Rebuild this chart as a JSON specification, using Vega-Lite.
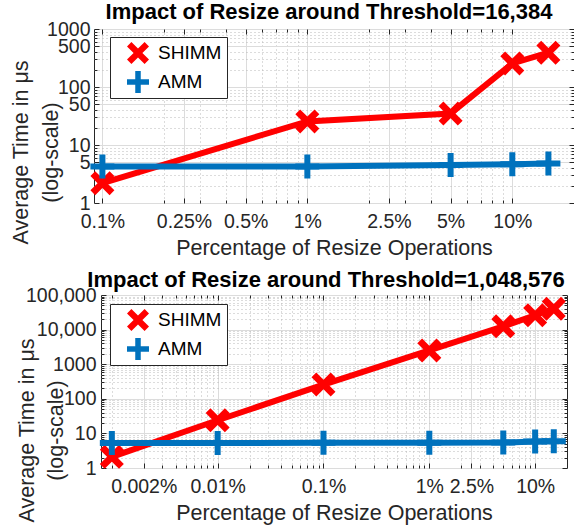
{
  "$schema": "https://vega.github.io/schema/vega-lite/v6.json",
  "background": "white",
  "padding": {"left": 9, "top": 0, "right": 0, "bottom": 0},
  "columns": 1,
  "bounds": "flush",
  "center": true,
  "spacing": 92,
  "resolve": {"scale": {"color": "independent", "shape": "independent"}, "legend": {"color": "independent", "shape": "independent"}},
  "config": {
    "font": "Liberation Sans",
    "view": {"stroke": "#262626", "strokeWidth": 1},
    "legend": {
      "orient": "none", "title": null, "strokeColor": "#262626", "fillColor": "white", "padding": 5,
      "labelFontSize": 19, "labelColor": "black", "labelFont": "Liberation Sans", "rowPadding": 7,
      "symbolSize": 484, "symbolOffset": 12, "labelOffset": 9, "symbolStrokeWidth": 0, "symbolOpacity": 1,
      "cornerRadius": 0, "strokeWidth": 1
    },
    "axis": {
      "labelFont": "Liberation Sans", "labelFontSize": 19.5, "labelColor": "#262626", "labelOverlap": false, "labelFlush": false,
      "titleFont": "Liberation Sans", "titleFontSize": 21.5, "titleFontWeight": "normal", "titleColor": "#262626",
      "domain": false, "tickColor": "#262626", "gridWidth": 1
    }
  },
  "datasets": {
    "top": [
      {"pct": 0.1, "time": 2.2, "method": "SHIMM"},
      {"pct": 1, "time": 25.5, "method": "SHIMM"},
      {"pct": 5, "time": 35, "method": "SHIMM"},
      {"pct": 10, "time": 255, "method": "SHIMM"},
      {"pct": 15, "time": 390, "method": "SHIMM"},
      {"pct": 0.1, "time": 4.25, "method": "AMM"},
      {"pct": 1, "time": 4.25, "method": "AMM"},
      {"pct": 5, "time": 4.5, "method": "AMM"},
      {"pct": 10, "time": 4.65, "method": "AMM"},
      {"pct": 15, "time": 4.8, "method": "AMM"}
    ],
    "bottom": [
      {"pct": 0.001, "time": 2.1, "method": "SHIMM"},
      {"pct": 0.01, "time": 24, "method": "SHIMM"},
      {"pct": 0.1, "time": 258, "method": "SHIMM"},
      {"pct": 1, "time": 2500, "method": "SHIMM"},
      {"pct": 5, "time": 12400, "method": "SHIMM"},
      {"pct": 10, "time": 26000, "method": "SHIMM"},
      {"pct": 15, "time": 40000, "method": "SHIMM"},
      {"pct": 0.001, "time": 5.3, "method": "AMM"},
      {"pct": 0.01, "time": 5.3, "method": "AMM"},
      {"pct": 0.1, "time": 5.35, "method": "AMM"},
      {"pct": 1, "time": 5.35, "method": "AMM"},
      {"pct": 5, "time": 5.45, "method": "AMM"},
      {"pct": 10, "time": 5.8, "method": "AMM"},
      {"pct": 15, "time": 5.9, "method": "AMM"}
    ]
  },
  "concat": [
    {
      "width": 480, "height": 174,
      "title": {"text": "Impact of Resize around Threshold=16,384", "fontSize": 22, "fontWeight": "bold", "color": "black", "offset": -5, "anchor": "middle", "dx": -5},
      "data": {"name": "top"},
      "resolve": {"axis": {"x": "independent", "y": "independent"}},
      "layer": [
        {
          "mark": {"type": "line", "strokeWidth": 6},
          "encoding": {
            "x": {"field": "pct", "type": "quantitative", "scale": {"type": "log", "domain": [0.091, 20], "nice": false},
              "axis": {"orient": "bottom", "title": "Percentage of Resize Operations",
                "values": [0.1, 0.2, 0.25, 0.3, 0.4, 0.5, 0.6, 0.7, 0.8, 0.9, 1, 2, 2.5, 3, 4, 5, 6, 7, 8, 9, 10],
                "labelExpr": "indexof([0.1,0.25,0.5,1,2.5,5,10], datum.value) >= 0 ? datum.value + '%' : ''",
                "labelPadding": 14, "titlePadding": 5,
                "tickSize": {"condition": {"test": "indexof([0.1,0.25,0.5,1,2.5,5,10], datum.value) < 0", "value": -3}, "value": -5},
                "gridColor": {"condition": {"test": "indexof([0.1,0.25,0.5,1,2.5,5,10], datum.value) < 0", "value": "#b8b8b8"}, "value": "#dcdcdc"},
                "gridDash": {"condition": {"test": "indexof([0.1,0.25,0.5,1,2.5,5,10], datum.value) < 0", "value": [1, 3]}, "value": []}
              }},
            "y": {"field": "time", "type": "quantitative", "scale": {"type": "log", "domain": [1, 1000], "nice": false},
              "axis": {"orient": "left", "title": ["Average Time in μs", "(log-scale)"], "titleX": -62, "titleY": 123, "titleLineHeight": 30,
                "values": [1, 2, 3, 4, 5, 6, 7, 8, 9, 10, 20, 30, 40, 50, 60, 70, 80, 90, 100, 200, 300, 400, 500, 600, 700, 800, 900, 1000],
                "labelExpr": "indexof([1,5,10,50,100,500,1000], datum.value) >= 0 ? format(datum.value, 'd') : ''",
                "labelPadding": 9,
                "tickSize": {"condition": {"test": "indexof([1,5,10,50,100,500,1000], datum.value) < 0", "value": -3}, "value": -5},
                "gridColor": {"condition": {"test": "indexof([1,5,10,50,100,500,1000], datum.value) < 0", "value": "#b8b8b8"}, "value": "#dcdcdc"},
                "gridDash": {"condition": {"test": "indexof([1,5,10,50,100,500,1000], datum.value) < 0", "value": [1, 3]}, "value": []}
              }},
            "color": {"field": "method", "type": "nominal", "scale": {"domain": ["SHIMM", "AMM"], "range": ["#FF0000", "#0072BD"]},
              "legend": {"legendX": 16, "legendY": 8, "encode": {"symbols": {"update": {
                "shape": {"signal": "datum.value == 'SHIMM' ? 'M-1.55,-0.27H1.55V0.27H-1.55Z M-1,-0.6L-0.6,-1L0,-0.4L0.6,-1L1,-0.6L0.4,0L1,0.6L0.6,1L0,0.4L-0.6,1L-1,0.6L-0.4,0Z' : 'M-1.55,-0.27H1.55V0.27H-1.55Z M-0.25,-1H0.25V-0.25H1V0.25H0.25V1H-0.25V0.25H-1V-0.25H-0.25Z'"},
                "fill": {"signal": "datum.value == 'SHIMM' ? '#FF0000' : '#0072BD'"},
                "stroke": {"value": "transparent"}, "strokeWidth": {"value": 0}, "opacity": {"value": 1}, "fillOpacity": {"value": 1}}}}}}
          }
        },
        {
          "mark": {"type": "point", "filled": true, "opacity": 1, "size": 576, "strokeWidth": 0},
          "encoding": {
            "x": {"field": "pct", "type": "quantitative", "scale": {"type": "log", "domain": [0.091, 20], "nice": false}, "axis": null},
            "y": {"field": "time", "type": "quantitative", "scale": {"type": "log", "domain": [1, 1000], "nice": false}, "axis": null},
            "color": {"field": "method", "type": "nominal", "scale": {"domain": ["SHIMM", "AMM"], "range": ["#FF0000", "#0072BD"]}},
            "shape": {"field": "method", "type": "nominal", "scale": {"domain": ["SHIMM", "AMM"], "range": ["M-1,-0.6L-0.6,-1L0,-0.4L0.6,-1L1,-0.6L0.4,0L1,0.6L0.6,1L0,0.4L-0.6,1L-1,0.6L-0.4,0Z", "M-0.25,-1H0.25V-0.25H1V0.25H0.25V1H-0.25V0.25H-1V-0.25H-0.25Z"]}, "legend": null}
          }
        },
        {
          "mark": {"type": "point", "opacity": 0},
          "encoding": {
            "x": {"field": "pct", "type": "quantitative", "scale": {"type": "log", "domain": [0.091, 20], "nice": false},
              "axis": {"orient": "top", "title": null, "labels": false, "grid": false,
                "values": [0.1, 0.2, 0.25, 0.3, 0.4, 0.5, 0.6, 0.7, 0.8, 0.9, 1, 2, 2.5, 3, 4, 5, 6, 7, 8, 9, 10],
                "tickSize": {"condition": {"test": "indexof([0.1,0.25,0.5,1,2.5,5,10], datum.value) < 0", "value": -3}, "value": -5}}},
            "y": {"field": "time", "type": "quantitative", "scale": {"type": "log", "domain": [1, 1000], "nice": false},
              "axis": {"orient": "right", "title": null, "labels": false, "grid": false,
                "values": [1, 2, 3, 4, 5, 6, 7, 8, 9, 10, 20, 30, 40, 50, 60, 70, 80, 90, 100, 200, 300, 400, 500, 600, 700, 800, 900, 1000],
                "tickSize": {"condition": {"test": "indexof([1,5,10,50,100,500,1000], datum.value) < 0", "value": -3}, "value": -5}}}
          }
        }
      ]
    },
    {
      "width": 466, "height": 173,
      "title": {"text": "Impact of Resize around Threshold=1,048,576", "fontSize": 22, "fontWeight": "bold", "color": "black", "offset": -7, "anchor": "middle", "dx": -8},
      "data": {"name": "bottom"},
      "resolve": {"axis": {"x": "independent", "y": "independent"}},
      "layer": [
        {
          "mark": {"type": "line", "strokeWidth": 6},
          "encoding": {
            "x": {"field": "pct", "type": "quantitative", "scale": {"type": "log", "domain": [0.00079, 20], "nice": false},
              "axis": {"orient": "bottom", "title": "Percentage of Resize Operations",
                "values": [0.001, 0.002, 0.003, 0.004, 0.005, 0.006, 0.007, 0.008, 0.009, 0.01, 0.02, 0.03, 0.04, 0.05, 0.06, 0.07, 0.08, 0.09, 0.1, 0.2, 0.3, 0.4, 0.5, 0.6, 0.7, 0.8, 0.9, 1, 2, 2.5, 3, 4, 5, 6, 7, 8, 9, 10],
                "labelExpr": "indexof([0.002,0.01,0.1,1,2.5,10], datum.value) >= 0 ? datum.value + '%' : ''",
                "labelPadding": 14, "titlePadding": 5,
                "tickSize": {"condition": {"test": "indexof([0.002,0.01,0.1,1,2.5,10], datum.value) < 0", "value": -3}, "value": -5},
                "gridColor": {"condition": {"test": "indexof([0.002,0.01,0.1,1,2.5,10], datum.value) < 0", "value": "#b8b8b8"}, "value": "#dcdcdc"},
                "gridDash": {"condition": {"test": "indexof([0.002,0.01,0.1,1,2.5,10], datum.value) < 0", "value": [1, 3]}, "value": []}
              }},
            "y": {"field": "time", "type": "quantitative", "scale": {"type": "log", "domain": [1, 100000], "nice": false},
              "axis": {"orient": "left", "title": ["Average Time in μs", "(log-scale)"], "titleX": -63, "titleY": 135, "titleLineHeight": 29,
                "values": [1, 2, 3, 4, 5, 6, 7, 8, 9, 10, 20, 30, 40, 50, 60, 70, 80, 90, 100, 200, 300, 400, 500, 600, 700, 800, 900, 1000, 2000, 3000, 4000, 5000, 6000, 7000, 8000, 9000, 10000, 20000, 30000, 40000, 50000, 60000, 70000, 80000, 90000, 100000],
                "labelExpr": "indexof([1,10,100,1000,10000,100000], datum.value) >= 0 ? (datum.value >= 10000 ? format(datum.value, ',') : format(datum.value, 'd')) : ''",
                "labelPadding": 10,
                "tickSize": {"condition": {"test": "indexof([1,10,100,1000,10000,100000], datum.value) < 0", "value": -3}, "value": -5},
                "gridColor": {"condition": {"test": "indexof([1,10,100,1000,10000,100000], datum.value) < 0", "value": "#b8b8b8"}, "value": "#dcdcdc"},
                "gridDash": {"condition": {"test": "indexof([1,10,100,1000,10000,100000], datum.value) < 0", "value": [1, 3]}, "value": []}
              }},
            "color": {"field": "method", "type": "nominal", "scale": {"domain": ["SHIMM", "AMM"], "range": ["#FF0000", "#0072BD"]},
              "legend": {"legendX": 9, "legendY": 9, "encode": {"symbols": {"update": {
                "shape": {"signal": "datum.value == 'SHIMM' ? 'M-1.55,-0.27H1.55V0.27H-1.55Z M-1,-0.6L-0.6,-1L0,-0.4L0.6,-1L1,-0.6L0.4,0L1,0.6L0.6,1L0,0.4L-0.6,1L-1,0.6L-0.4,0Z' : 'M-1.55,-0.27H1.55V0.27H-1.55Z M-0.25,-1H0.25V-0.25H1V0.25H0.25V1H-0.25V0.25H-1V-0.25H-0.25Z'"},
                "fill": {"signal": "datum.value == 'SHIMM' ? '#FF0000' : '#0072BD'"},
                "stroke": {"value": "transparent"}, "strokeWidth": {"value": 0}, "opacity": {"value": 1}, "fillOpacity": {"value": 1}}}}}}
          }
        },
        {
          "mark": {"type": "point", "filled": true, "opacity": 1, "size": 576, "strokeWidth": 0},
          "encoding": {
            "x": {"field": "pct", "type": "quantitative", "scale": {"type": "log", "domain": [0.00079, 20], "nice": false}, "axis": null},
            "y": {"field": "time", "type": "quantitative", "scale": {"type": "log", "domain": [1, 100000], "nice": false}, "axis": null},
            "color": {"field": "method", "type": "nominal", "scale": {"domain": ["SHIMM", "AMM"], "range": ["#FF0000", "#0072BD"]}},
            "shape": {"field": "method", "type": "nominal", "scale": {"domain": ["SHIMM", "AMM"], "range": ["M-1,-0.6L-0.6,-1L0,-0.4L0.6,-1L1,-0.6L0.4,0L1,0.6L0.6,1L0,0.4L-0.6,1L-1,0.6L-0.4,0Z", "M-0.25,-1H0.25V-0.25H1V0.25H0.25V1H-0.25V0.25H-1V-0.25H-0.25Z"]}, "legend": null}
          }
        },
        {
          "mark": {"type": "point", "opacity": 0},
          "encoding": {
            "x": {"field": "pct", "type": "quantitative", "scale": {"type": "log", "domain": [0.00079, 20], "nice": false},
              "axis": {"orient": "top", "title": null, "labels": false, "grid": false,
                "values": [0.001, 0.002, 0.003, 0.004, 0.005, 0.006, 0.007, 0.008, 0.009, 0.01, 0.02, 0.03, 0.04, 0.05, 0.06, 0.07, 0.08, 0.09, 0.1, 0.2, 0.3, 0.4, 0.5, 0.6, 0.7, 0.8, 0.9, 1, 2, 2.5, 3, 4, 5, 6, 7, 8, 9, 10],
                "tickSize": {"condition": {"test": "indexof([0.002,0.01,0.1,1,2.5,10], datum.value) < 0", "value": -3}, "value": -5}}},
            "y": {"field": "time", "type": "quantitative", "scale": {"type": "log", "domain": [1, 100000], "nice": false},
              "axis": {"orient": "right", "title": null, "labels": false, "grid": false,
                "values": [1, 2, 3, 4, 5, 6, 7, 8, 9, 10, 20, 30, 40, 50, 60, 70, 80, 90, 100, 200, 300, 400, 500, 600, 700, 800, 900, 1000, 2000, 3000, 4000, 5000, 6000, 7000, 8000, 9000, 10000, 20000, 30000, 40000, 50000, 60000, 70000, 80000, 90000, 100000],
                "tickSize": {"condition": {"test": "indexof([1,10,100,1000,10000,100000], datum.value) < 0", "value": -3}, "value": -5}}}
          }
        }
      ]
    }
  ]
}
